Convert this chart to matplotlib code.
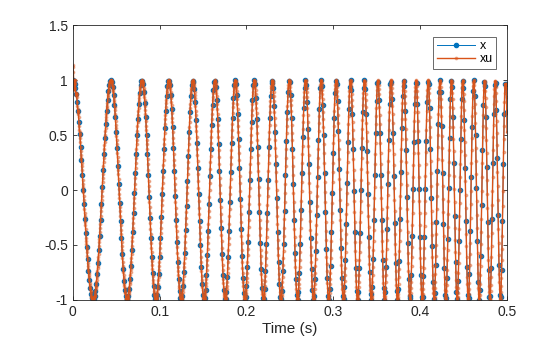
import numpy as np
import matplotlib
matplotlib.use('Agg')
import matplotlib.pyplot as plt

plt.rcParams['font.family'] = ['Liberation Sans', 'DejaVu Sans']

# linear chirp sampled at fs, then upsampled by p
fs = 1000            # Hz
duration = 0.5       # s
f_start = 20.0       # Hz at t=0
f_end = 84.5         # Hz at t=duration
p = 4                # upsampling factor for xu

xticks = [0, 0.1, 0.2, 0.3, 0.4, 0.5]
yticks = [-1, -0.5, 0, 0.5, 1, 1.5]

t = np.arange(0, duration + 1 / fs / 2, 1 / fs)
k = (f_end - f_start) / duration
x = np.cos(2 * np.pi * (f_start * t + 0.5 * k * t ** 2))

# band-limited (sinc) upsampling, zero outside the record
tu = np.arange(len(x) * p) / (fs * p)
n = np.arange(len(x))
xu = np.sinc(tu[:, None] * fs - n[None, :]) @ x

blue = '#0072BD'
orange = '#D95319'
grey = '#262626'

fig = plt.figure(figsize=(5.6, 3.37), dpi=100)
ax = fig.add_axes([0.13, 0.11, 0.775, 0.815])

ax.plot(t, x, color=blue, lw=0.7, marker='.', ms=6, label='x')
ax.plot(tu, xu, color=orange, lw=1.0, marker='.', ms=3.5,
        mfc=(0.85, 0.33, 0.10, 0.4), mec=(0.85, 0.33, 0.10, 0.4), label='xu')

ax.set_xlim(0, 0.5)
ax.set_ylim(-1, 1.5)
ax.set_xticks(xticks)
ax.set_xticklabels(['0', '0.1', '0.2', '0.3', '0.4', '0.5'])
ax.set_yticks(yticks)
ax.set_yticklabels(['-1', '-0.5', '0', '0.5', '1', '1.5'])
ax.tick_params(direction='in', length=3, width=0.6, colors=grey, labelsize=10,
               top=True, right=True)
for s in ax.spines.values():
    s.set_color(grey)
    s.set_linewidth(0.6)
ax.set_xlabel('Time (s)', fontsize=11, color=grey, labelpad=2)

leg = ax.legend(loc='upper right', fontsize=9, frameon=True, fancybox=False,
                edgecolor=grey, borderpad=0.25, borderaxespad=0,
                handlelength=3.1, handletextpad=0.35, labelspacing=0.1,
                bbox_to_anchor=(0.975, 0.957))
leg.get_frame().set_linewidth(0.6)

fig.savefig('out.png', dpi=100)
